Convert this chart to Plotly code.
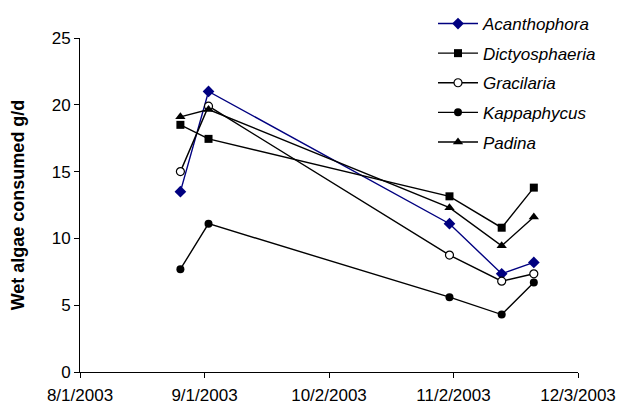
import plotly.graph_objects as go

dates = ["2003-08-26", "2003-09-02", "2003-11-01", "2003-11-14", "2003-11-22"]
acanthophora = [13.5, 21.0, 11.1, 7.35, 8.2]
dictyosphaeria = [18.5, 17.45, 13.15, 10.8, 13.8]
gracilaria = [15.0, 19.9, 8.75, 6.8, 7.35]
kappaphycus = [7.7, 11.1, 5.6, 4.3, 6.7]
padina = [19.1, 19.65, 12.3, 9.45, 11.6]

tick_vals = ["2003-08-01", "2003-09-01", "2003-10-02", "2003-11-02", "2003-12-03"]
tick_text = ["8/1/2003", "9/1/2003", "10/2/2003", "11/2/2003", "12/3/2003"]

series = [
    ("Acanthophora", acanthophora, "#000080", dict(symbol="diamond", size=9, color="#000080")),
    ("Dictyosphaeria", dictyosphaeria, "black", dict(symbol="square", size=8, color="black")),
    ("Gracilaria", gracilaria, "black", dict(symbol="circle", size=8, color="white", line=dict(color="black", width=1.2))),
    ("Kappaphycus", kappaphycus, "black", dict(symbol="circle", size=8, color="black")),
    ("Padina", padina, "black", dict(symbol="triangle-up", size=9, color="black")),
]

fig = go.Figure()
for name, vals, col, mk in series:
    fig.add_trace(go.Scatter(
        x=dates, y=vals, name=name, mode="lines+markers",
        line=dict(color=col, width=1.4), marker=mk, legendgroup=name,
    ))

L, R, T, B = 80, 43, 38, 33
pw = 621 - L - R
ph = 405 - T - B

fig.update_layout(
    width=621, height=405,
    margin=dict(l=L, r=R, t=T, b=B, autoexpand=False),
    plot_bgcolor="white", paper_bgcolor="white",
    font=dict(family="Liberation Sans, Arial, sans-serif", size=17, color="black"),
    showlegend=True,
    legend=dict(
        x=(433 - L) / pw, y=1 + (T - 6) / ph,
        xanchor="left", yanchor="top",
        font=dict(size=17, style="italic"),
        tracegroupgap=4.5,
        itemwidth=40,
        bgcolor="rgba(0,0,0,0)",
    ),
    xaxis=dict(
        range=["2003-08-01", "2003-12-03"],
        tickvals=tick_vals, ticktext=tick_text,
        showline=True, linecolor="black", linewidth=1,
        ticks="outside", ticklen=5, tickcolor="black",
        showgrid=False, zeroline=False, automargin=False,
        tickfont=dict(size=17), ticklabelstandoff=3,
    ),
    yaxis=dict(
        range=[0, 25], dtick=5,
        showline=True, linecolor="black", linewidth=1,
        ticks="outside", ticklen=5, tickcolor="black",
        showgrid=False, zeroline=False, automargin=False,
        tickfont=dict(size=17),
        title=dict(text="<b>Wet algae consumed g/d</b>", font=dict(size=18), standoff=22),
    ),
)

fig.write_html("out.html")
